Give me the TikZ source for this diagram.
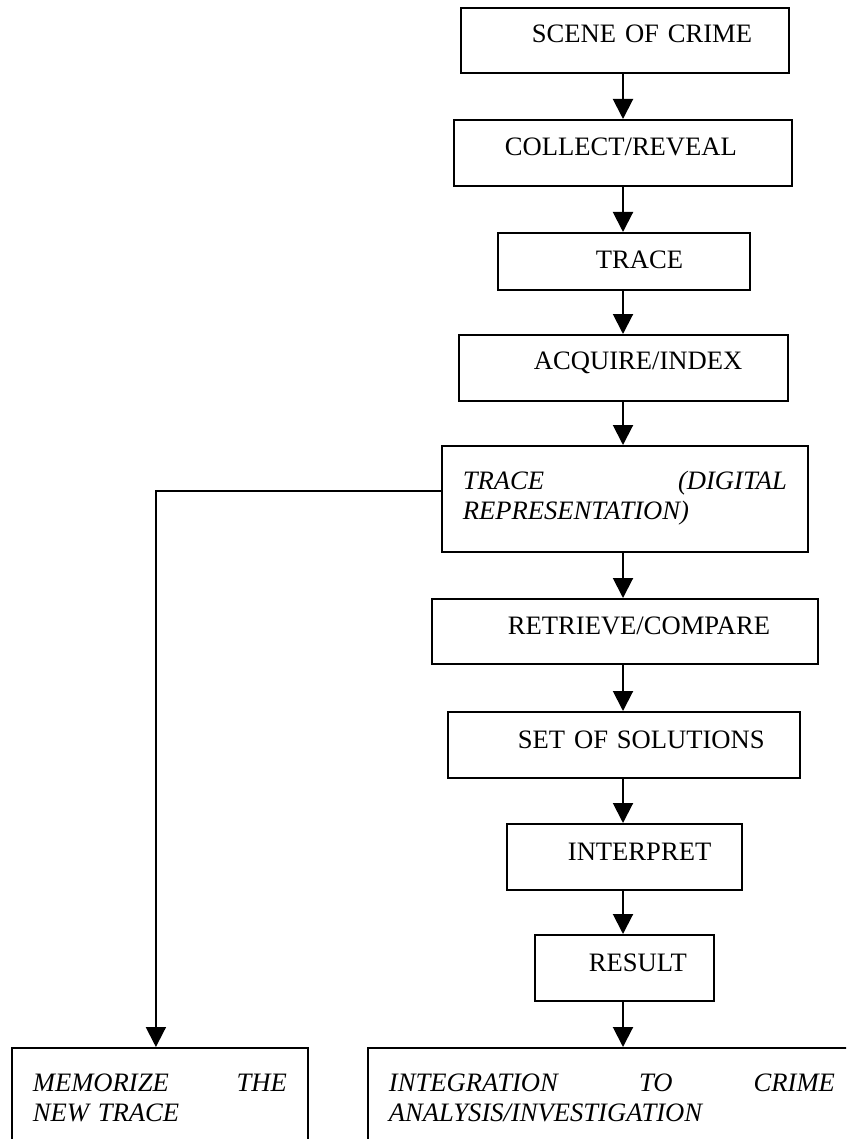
\documentclass[tikz,border=0pt]{standalone}
\usepackage{fontspec}
\setmainfont{Liberation Serif}
\usepackage{tikz}
\usetikzlibrary{arrows.meta,calc,positioning}
\setlength{\parindent}{0pt}

\tikzset{
  stepbox/.style={draw,line width=1.8pt,anchor=north west,inner sep=0pt,align=left},
  notebox/.style={stepbox,inner xsep=21pt,text height=44pt,execute at begin node=\itshape},
  conn/.style={line width=2pt,-{Triangle[width=20pt,length=20pt]}}
}

\begin{document}
\begin{tikzpicture}[x=1pt,y=-1pt,font=\fontsize{26.6pt}{30pt}\selectfont]
\path[use as bounding box,clip] (0,0) rectangle (846,1139);
\coordinate (axis) at (623,0);
\node[stepbox,text width=328pt,text height=35pt,text depth=30pt] (scene) at (460,7) {\hspace*{71pt}SCENE OF CRIME};
\node[stepbox,text width=338pt,text height=36pt,text depth=30pt] (collect) at (453,119) {\hspace*{51pt}COLLECT/REVEAL};
\node[stepbox,text width=252pt,text height=36pt,text depth=21pt] (trace) at (497,232) {\hspace*{98pt}TRACE};
\node[stepbox,text width=329pt,text height=35pt,text depth=31pt] (acquire) at (458,334) {\hspace*{75pt}ACQUIRE/INDEX};
\node[notebox,text width=324pt,text depth=62pt] (digital) at (441,445) {TRACE\hfill(DIGITAL\\REPRESENTATION)};
\node[stepbox,text width=386pt,text height=36pt,text depth=29pt] (retrieve) at (431,598) {\hspace*{76pt}RETRIEVE/COMPARE};
\node[stepbox,text width=352pt,text height=37pt,text depth=29pt] (solutions) at (447,711) {\hspace*{70pt}SET OF SOLUTIONS};
\node[stepbox,text width=235pt,text height=37pt,text depth=29pt] (interpret) at (506,823) {\hspace*{61pt}INTERPRET};
\node[stepbox,text width=179pt,text height=37pt,text depth=29pt] (result) at (534,934) {\hspace*{54pt}RESULT};
\node[notebox,text width=254pt,text depth=76pt] (memorize) at (11,1047) {MEMORIZE\hfill THE\\NEW TRACE};
\node[notebox,text width=446pt,text depth=76pt] (integration) at (367,1047) {INTEGRATION\hfill TO\hfill CRIME\\ANALYSIS/INVESTIGATION};

\draw[conn] (scene.south -| axis) -- (collect.north -| axis);
\draw[conn] (collect.south -| axis) -- (trace.north -| axis);
\draw[conn] (trace.south -| axis) -- (acquire.north -| axis);
\draw[conn] (acquire.south -| axis) -- (digital.north -| axis);
\draw[conn] (digital.south -| axis) -- (retrieve.north -| axis);
\draw[conn] (retrieve.south -| axis) -- (solutions.north -| axis);
\draw[conn] (solutions.south -| axis) -- (interpret.north -| axis);
\draw[conn] (interpret.south -| axis) -- (result.north -| axis);
\draw[conn] (result.south -| axis) -- (integration.north -| axis);
% branch to the left box
\coordinate (split) at ($(digital.north west)+(0,46)$);
\draw[conn] (split) -| ([xshift=-4pt]memorize.north);
\end{tikzpicture}
\end{document}
